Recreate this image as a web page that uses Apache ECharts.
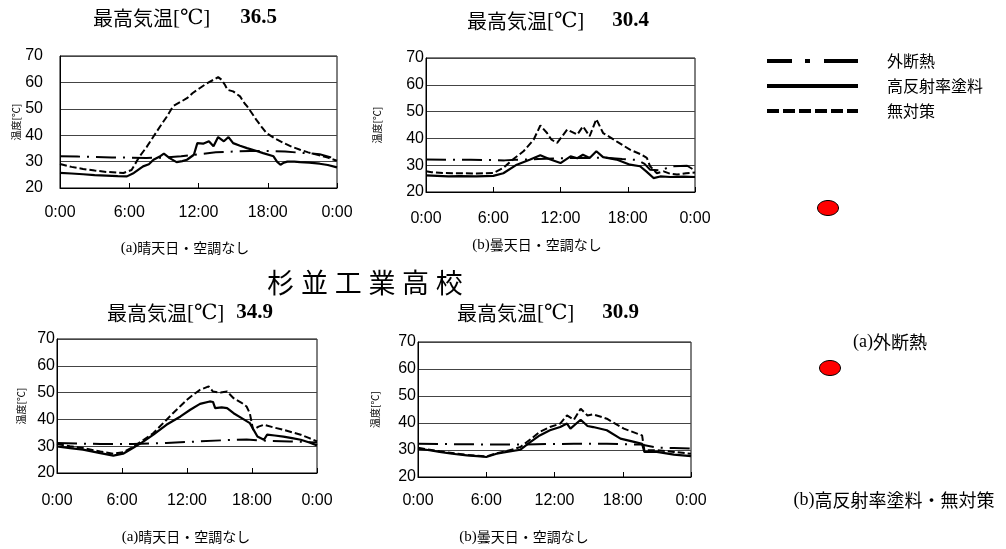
<!DOCTYPE html>
<html><head><meta charset="utf-8">
<script src="https://cdn.jsdelivr.net/npm/echarts@6/dist/echarts.min.js"></script>
<style>html,body{margin:0;padding:0;background:#fff}#c{width:1006px;height:549px}</style>
</head><body><div id="c"></div>
<script>
// ---- data ----
const timeLabels = ['0:00', '6:00', '12:00', '18:00', '0:00'];
const seriesNames = ['外断熱', '高反射率塗料', '無対策'];
const mainTitle = '杉並工業高校';
const maxTempLabel = '最高気温';
const maxTemps = ['36.5', '30.4', '34.9', '30.9'];
const captionTags = ['(a)', '(b)', '(a)', '(b)'];
const captionTexts = ['晴天日・空調なし', '曇天日・空調なし', '晴天日・空調なし', '曇天日・空調なし'];
const mapLabels = [['(a)', '外断熱'], ['(b)', '高反射率塗料・無対策']];

// panel 1: sunny (top-left)  [hour, °C]
const p1_ext = [[0,32],[1.5,31.9],[3,31.8],[4.5,31.6],[6,31.5],[7.5,31.4],[9,31.5],[10.5,32],[12,32.8],[13.5,33.5],[15,33.8],[16.5,34],[18,34],[19.5,33.8],[21,33.3],[22.5,32.8],[24,31]];
const p1_high = [[0,25.7],[1,25.5],[2,25.2],[3,24.9],[4,24.7],[5,24.5],[5.8,24.4],[6.4,25.7],[7.2,28.2],[7.7,29],[8.1,30.7],[8.6,31.8],[9,33],[9.5,31.3],[10.1,29.8],[10.6,30.2],[11,30.7],[11.6,32.6],[11.9,37],[12.4,36.8],[12.9,37.7],[13.3,35.8],[13.7,39.3],[14.2,37.7],[14.6,39.3],[15,37],[15.6,36],[16.2,35.1],[16.9,34.2],[17.6,33.2],[18.5,32],[18.8,30],[19.1,28.8],[19.4,29.6],[19.7,30],[20.3,30],[20.8,29.8],[21.6,29.6],[22.5,29.2],[23.2,28.7],[24,27.8]];
const p1_none = [[0,29.1],[1,28],[2,27.2],[3,26.6],[4,26.1],[5,25.8],[5.5,25.7],[6.2,26.8],[6.9,32],[7.5,35.5],[8.1,39.5],[8.7,43.5],[9.25,47],[9.8,51],[10.4,52.5],[11,54],[11.5,56],[12.1,57.8],[12.7,59.6],[13.3,61],[13.7,62],[14,61],[14.3,59],[14.5,57.2],[15,56.6],[15.6,54.7],[16,52],[16.2,51],[16.6,48.5],[17,45.9],[17.5,43],[17.9,40.8],[18.6,38.8],[19.4,37],[20.1,35.6],[20.8,34.5],[21.5,33.5],[22.3,32.6],[23.2,31.5],[24,30.3]];

// panel 2: cloudy (top-middle)
const p2_ext = [[0,32.1],[2,32],[4,32],[6,31.9],[7,31.8],[8,32],[10,32.3],[12,32.6],[14,32.7],[16,32.8],[17.5,32.3],[18.8,32],[19.5,30.5],[20,28.3],[21,28],[21.8,29.6],[23.3,29.8],[24,28]];
const p2_high = [[0,26.2],[1,26],[2,25.8],[3,25.9],[4.5,25.8],[6,26],[6.9,27],[8.1,30.2],[9.3,32.1],[10.2,33.7],[11.1,32.1],[12,30.8],[12.9,33.3],[13.5,32.6],[14,33.9],[14.6,32.7],[15.2,35.2],[15.8,33],[17,32.1],[18.2,30.2],[19.1,29.6],[19.7,27.5],[20.3,25.2],[20.9,25.8],[21.8,25.6],[23,25.7],[24,25.6]];
const p2_none = [[0,27.7],[0.5,27.4],[1.5,27.1],[3,27],[4.5,26.9],[6,27.1],[6.9,29],[7.8,32.3],[8.7,35.2],[9.6,39.5],[10.2,44.8],[10.8,42],[11.2,39.5],[11.7,38.3],[12.6,43.3],[13.5,41.4],[14,44.5],[14.6,40.8],[15.2,47.2],[15.8,42],[16.4,40.5],[17,38.9],[18.2,35.8],[19.2,34],[19.7,32.7],[20,29.6],[20.6,27],[21.2,27.7],[21.8,26.8],[22.4,26.5],[23.2,27],[24,27.3]];

// panel 3: sunny (bottom-left)
const p3_ext = [[0,31.2],[2,31],[4,30.8],[7,30.8],[10.1,31.2],[13.2,31.8],[16.3,32.4],[17.5,32.5],[19.4,32],[21.5,31.8],[24,31.4]];
const p3_high = [[0,29.9],[1.2,29.3],[2.4,28.7],[4,27.4],[5.2,26.5],[6.1,27.2],[7,29.3],[8,31.8],[8.9,34.3],[10.1,38],[11.4,41.1],[12.3,43.6],[13.2,45.8],[14.1,46.7],[14.4,46.5],[14.6,44.2],[15.2,44.5],[15.7,44.2],[16.3,42.3],[17.2,40.1],[17.8,38.6],[18.5,33.6],[19.1,32.4],[19.4,34.3],[20.1,34],[20.9,33.6],[21.7,33],[22.5,32.4],[23.3,31.4],[24,30.3]];
const p3_none = [[0,30.8],[1.2,30],[2.4,29.3],[4,28],[5.2,27.2],[6.1,27.7],[7,29.7],[8,32.4],[8.9,34.9],[9.8,38.6],[10.7,42.3],[11.4,45],[12,47.3],[12.6,49.3],[13.2,51],[14,52.3],[14.4,50.4],[15.1,50],[15.7,50.4],[16.3,47.9],[17,46.3],[17.5,44.8],[17.8,42.3],[18.1,36.1],[18.6,37.3],[19.1,38],[20,37],[20.9,36.1],[21.7,35.2],[22.5,34.3],[23.3,33],[24,31.8]];

// panel 4: cloudy (bottom-middle)
const p4_ext = [[0,32.3],[2.5,32.2],[4.9,32.1],[7,32],[9,32],[11.5,32.2],[13.7,32.3],[16.6,32.3],[18.5,32.1],[19.6,32],[21,30.9],[22.5,30.7],[24,30.5]];
const p4_high = [[0,30.5],[1,29.9],[1.9,29.3],[3,28.6],[4.3,28],[5.2,27.7],[6,27.4],[6.9,28.6],[7.8,29.3],[9,30.1],[9.9,33],[10.7,35.4],[11.6,37.3],[12.5,38.5],[13.1,39.8],[13.4,37.9],[14.3,41.2],[14.9,38.9],[15.4,38.5],[16.6,37.3],[17.8,34.2],[19,33],[19.7,32.3],[19.9,29.3],[21,29.3],[22.5,28.3],[24,27.7]];
const p4_none = [[0,30.8],[1.9,29.5],[4.3,28.2],[6,27.6],[6.9,28.8],[7.8,29.6],[9,31.1],[9.9,34],[10.7,36.7],[11.6,38.5],[12.5,39.8],[13.1,42.8],[13.7,41.2],[14.3,45.3],[14.9,42.8],[15.4,43.2],[16.6,41.6],[18.1,37.9],[19.7,35.4],[19.9,29.9],[21,29.9],[22.5,29.3],[24,28.6]];

const panelData = [[p1_ext, p1_high, p1_none], [p2_ext, p2_high, p2_none], [p3_ext, p3_high, p3_none], [p4_ext, p4_high, p4_none]];

// ---- layout / style ----
const GOTH = '"Noto Sans CJK JP", sans-serif';
const SERIF = '"Liberation Serif", "DejaVu Serif", serif';
const ARIAL = '"Liberation Sans", Arial, sans-serif';
const grids = [
  {left: 60, top: 56, width: 277, height: 132},
  {left: 426, top: 58, width: 269, height: 134},
  {left: 57, top: 339, width: 260, height: 134},
  {left: 418, top: 342, width: 273, height: 135}
];
const yLabelMargin = [17, 2, 2, 2];
const xLabelMargin = [17, 19, 20, 16];
const yNameGap = [38, 44, 31, 38];
const titlePos = [[185, 18, 30], [558, 21, 28], [190, 313, 12], [548, 313, 28]];
const captionPos = [[185, 248], [537, 245], [186, 537], [524, 537]];
const lineStyles = [
  {color: '#000', width: 2, type: [20, 7, 2, 7]},
  {color: '#000', width: 2.2, type: 'solid'},
  {color: '#000', width: 2, type: [7, 3]}
];
const hidden = {color: 'rgba(0,0,0,0)', borderColor: 'rgba(0,0,0,0)', borderWidth: 0};

const titles = [];
titles.push({text: mainTitle.split('').join('\u2005'), left: 365, top: 283, textAlign: 'center', textVerticalAlign: 'middle', padding: 0,
  textStyle: {fontFamily: GOTH, fontSize: 27, fontWeight: 'normal', color: '#000'}});
const titleRich = {
  g: {fontFamily: GOTH, fontSize: 20, fontWeight: 'normal', color: '#000'},
  s: {fontFamily: SERIF, fontSize: 21, fontWeight: 'normal', color: '#000'},
  n: {fontFamily: SERIF, fontSize: 21, fontWeight: 'bold', color: '#000'}
};
maxTemps.forEach((t, i) => {
  const [cx, cy, gap] = titlePos[i];
  titles.push({text: '{g|' + maxTempLabel + '}{s|[℃]}{n|' + t + '}', left: cx, top: cy, textAlign: 'center', textVerticalAlign: 'middle', padding: 0,
    textStyle: {fontWeight: 'normal', rich: Object.assign({}, titleRich, {n: Object.assign({}, titleRich.n, {padding: [0, 0, 0, gap]})})}});
});
const capRich = {
  s: {fontFamily: SERIF, fontSize: 15, fontWeight: 'normal', color: '#000'},
  g: {fontFamily: GOTH, fontSize: 14, fontWeight: 'normal', color: '#000'}
};
const mapRich = {
  s: {fontFamily: SERIF, fontSize: 18, fontWeight: 'normal', color: '#000'},
  g: {fontFamily: GOTH, fontSize: 18, fontWeight: 'normal', color: '#000'}
};
captionTexts.forEach((c, i) => {
  titles.push({text: '{s|' + captionTags[i] + '}{g|' + c + '}', left: captionPos[i][0], top: captionPos[i][1], textAlign: 'center', textVerticalAlign: 'middle', padding: 0,
    textStyle: {fontWeight: 'normal', rich: capRich}});
});
const mapPos = [[890, 342], [894, 500]];
mapLabels.forEach((m, i) => {
  titles.push({text: '{s|' + m[0] + '}{g|' + m[1] + '}', left: mapPos[i][0], top: mapPos[i][1], textAlign: 'center', textVerticalAlign: 'middle', padding: 0,
    textStyle: {fontWeight: 'normal', rich: mapRich}});
});

const xAxes = [], yAxes = [], series = [];
grids.forEach((g, i) => {
  xAxes.push({type: 'value', gridIndex: i, min: 0, max: 24, interval: 6,
    axisLine: {show: true, lineStyle: {color: '#000', width: 1}},
    axisTick: {show: true, inside: true, length: 5, lineStyle: {color: '#000'}},
    splitLine: {show: false},
    axisLabel: {margin: xLabelMargin[i], fontFamily: ARIAL, fontSize: 16, color: '#000', showMinLabel: true, showMaxLabel: true,
      formatter: v => timeLabels[Math.round(v / 6)]}
  });
  yAxes.push({type: 'value', gridIndex: i, min: 20, max: 70, interval: 10,
    name: '温度[℃]', nameLocation: 'middle', nameGap: yNameGap[i], nameRotate: 90,
    nameTextStyle: {fontFamily: GOTH, fontSize: 10, color: '#000'},
    axisLine: {show: true, lineStyle: {color: '#000', width: 1}},
    axisTick: {show: false},
    splitLine: {show: true, lineStyle: {color: '#444', width: 1}},
    axisLabel: {margin: yLabelMargin[i], fontFamily: ARIAL, fontSize: 16, color: '#000'}
  });
  panelData[i].forEach((d, k) => {
    series.push({type: 'line', name: seriesNames[k], data: d, xAxisIndex: i, yAxisIndex: i,
      symbol: 'none', showSymbol: false, color: '#000', lineStyle: lineStyles[k], silent: true, z: 3 + k});
  });
});

const option = {
  backgroundColor: '#fff',
  animation: false,
  title: titles,
  grid: grids.map(g => Object.assign({show: true, borderColor: '#000', borderWidth: 1, backgroundColor: 'transparent'}, g)),
  xAxis: xAxes,
  yAxis: yAxes,
  legend: {
    orient: 'vertical', left: 765, top: 53, padding: 0, itemWidth: 91, itemHeight: 14, itemGap: 9, selectedMode: false,
    textStyle: {fontFamily: GOTH, fontSize: 16, color: '#000', padding: [0, 0, 0, 24]},
    data: [
      {name: seriesNames[0], itemStyle: hidden, lineStyle: {color: '#000', width: 4, type: [25, 13, 5, 14, 40, 10]}},
      {name: seriesNames[1], itemStyle: hidden, lineStyle: {color: '#000', width: 4, type: 'solid'}},
      {name: seriesNames[2], itemStyle: hidden, lineStyle: {color: '#000', width: 4, type: [12, 4]}}
    ]
  },
  graphic: [
    {type: 'ellipse', shape: {cx: 828, cy: 208, rx: 10.5, ry: 7.5}, style: {fill: '#ff0000', stroke: '#000', lineWidth: 1}},
    {type: 'ellipse', shape: {cx: 830, cy: 368, rx: 10.5, ry: 7.5}, style: {fill: '#ff0000', stroke: '#000', lineWidth: 1}}
  ],
  series: series
};
echarts.init(document.getElementById('c')).setOption(option);
</script></body></html>
